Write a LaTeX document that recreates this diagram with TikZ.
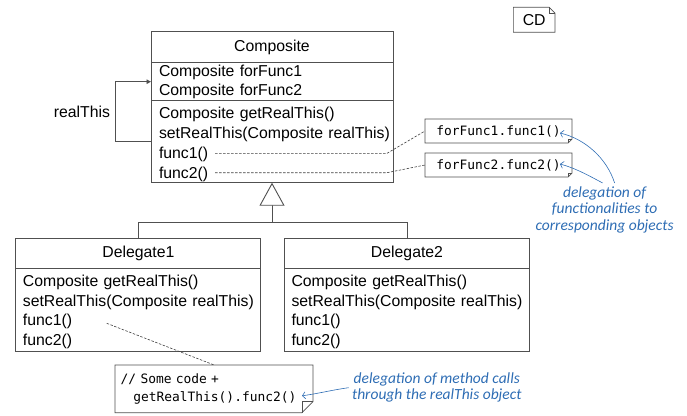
\documentclass[tikz,border=0pt]{standalone}
\usepackage{fontspec}
\setmainfont{Liberation Sans}
\setmonofont{DejaVu Sans Mono}
\newfontfamily\notefont{Carlito}
\usetikzlibrary{arrows.meta,positioning}

\definecolor{annblue}{HTML}{2E6DB4}
\definecolor{umlgray}{HTML}{505050}

% note outlines with a folded corner
\newcommand\foldbr[2]{%
  \draw[outline] (#1.north west) -- (#1.north east) -- ([yshift=#2]#1.south east)
    -- ([xshift=-#2]#1.south east) -- (#1.south west) -- cycle;
  \draw[outline] ([yshift=#2]#1.south east) -- ([xshift=-#2,yshift=#2]#1.south east)
    -- ([xshift=-#2]#1.south east);}
\newcommand\foldtr[2]{%
  \draw[outline] (#1.north west) -- ([xshift=-#2]#1.north east) -- ([yshift=-#2]#1.north east)
    -- (#1.south east) -- (#1.south west) -- cycle;
  \draw[outline] ([xshift=-#2]#1.north east) -- ([xshift=-#2,yshift=-#2]#1.north east)
    -- ([yshift=-#2]#1.north east);}

\begin{document}
\begin{tikzpicture}[
  x=1pt, y=-1pt,
  every node/.style={font=\fontsize{15.8}{19.5}\selectfont},
  clsname/.style={draw=umlgray, line width=0.9pt, minimum width=245pt, minimum height=30pt, inner sep=0pt, outer sep=0pt},
  clsbody/.style={draw=umlgray, line width=0.9pt, text width=245pt, inner xsep=0pt, inner ysep=0pt, outer sep=0pt,
    execute at begin node={\leftskip=7pt\rightskip=0pt plus 1fil}},
  notebox/.style={inner sep=0pt, outer sep=0pt, font=\ttfamily\fontsize{12.9}{17.4}\selectfont},
  outline/.style={draw=umlgray, line width=0.7pt},
  dashline/.style={draw=black!75, line width=0.6pt, dash pattern=on 2.5pt off 1.5pt},
  annot/.style={text=annblue, align=center, font=\notefont\itshape\fontsize{15.5}{16.4}\selectfont},
  annarrow/.style={annblue, line width=0.6pt, -{Straight Barb[length=3pt,width=7pt]}},
  realarrow/.style={umlgray, line width=0.9pt, -{Triangle[length=4.5pt,width=4.5pt]}},
  tree/.style={umlgray, line width=0.9pt},
  inherit/.style={tree, -{Triangle[open,length=23pt,width=25pt,fill=white]}}
]
\useasboundingbox (0,0) rectangle (687,415);

% composite class
\node[clsname, minimum width=242pt, minimum height=31pt] (comp) at (272,47.2) {Composite};
\node[clsbody, text width=242pt, minimum height=38pt, below=0pt of comp,
  execute at begin node={\leftskip=8pt}] (compattr)
  {Composite forFunc1\\Composite forFunc2};
\node[clsbody, text width=242pt, minimum height=82pt, below=0pt of compattr,
  font=\fontsize{15.8}{20}\selectfont,
  execute at begin node={\leftskip=8pt\rule{0pt}{16.3pt}}] (compmeth)
  {Composite getRealThis()\\setRealThis(Composite realThis)\\func1()\\func2()};

% delegates
\node[clsname] (del1) at (138.4,253.7) {Delegate1};
\node[clsbody, minimum height=82.5pt, below=0pt of del1, execute at begin node={\rule{0pt}{15.8pt}}] (del1meth)
  {Composite getRealThis()\\setRealThis(Composite realThis)\\func1()\\func2()};
\node[clsname] (del2) at (407,253.4) {Delegate2};
\node[clsbody, minimum height=82.8pt, below=0pt of del2, execute at begin node={\rule{0pt}{15.8pt}}] (del2meth)
  {Composite getRealThis()\\setRealThis(Composite realThis)\\func1()\\func2()};

% notes
\node[notebox, minimum width=147pt, minimum height=24pt] (n1) at (498.5,131) {forFunc1.func1()};
\foldbr{n1}{4pt}
\node[notebox, minimum width=147pt, minimum height=24pt] (n2) at (498.5,165) {forFunc2.func2()};
\foldbr{n2}{4pt}
\node[notebox, text width=186.6pt, inner xsep=5.7pt, minimum height=47.7pt, align=left] (code) at (214,388.8)
  {// Some code +\\\hspace*{12.6pt}getRealThis().func2()};
\foldbr{code}{11pt}
\node[inner sep=0pt, outer sep=0pt, minimum width=41.7pt, minimum height=25pt] (cd) at (534.2,19.8) {CD};
\foldtr{cd}{6pt}

% generalization
\coordinate (junc) at (272,222.3);
\draw[tree] (del1.north) |- (junc) -| (del2.north);
\draw[inherit] (junc) -- (compmeth.south);

% self reference
\draw[realarrow] (compmeth.west) -- ++(-36,0) |- node[pos=0.25, left, inner sep=4.5pt, text=black] {realThis} (compattr.west);

% dashed links
\coordinate (c1a) at (215,153.3);
\coordinate (c1b) at (387,153.3);
\coordinate (c2a) at (215,172.7);
\coordinate (c2b) at (387,172.7);
\coordinate (c3a) at (106.7,323.3);
\draw[dashline] (c1a) -- (c1b) -- (n1.west);
\draw[dashline] (c2a) -- (c2b) -- (n2.west);
\draw[dashline] (c3a) -- (code.north);

% annotations
\node[annot] (ann1) at (604.6,209.6) {delegation of\\functionalities to\\corresponding objects};
\node[annot] (ann2) at (436.8,387.7) {delegation of method calls\\through the realThis object};
\draw[annarrow] ([xshift=10pt]ann1.north) .. controls +(-8,-25) and +(25,6) .. ([xshift=-12pt,yshift=-2pt]n1.east);
\draw[annarrow] ([xshift=-2pt]ann1.north) .. controls +(-15,-8) and +(15,4) .. ([xshift=-12pt,yshift=1pt]n2.east);
\draw[annarrow] (ann2.west) .. controls +(-15,2) and +(15,-2) .. ([xshift=-11pt,yshift=-7pt]code.east);
\end{tikzpicture}
\end{document}
